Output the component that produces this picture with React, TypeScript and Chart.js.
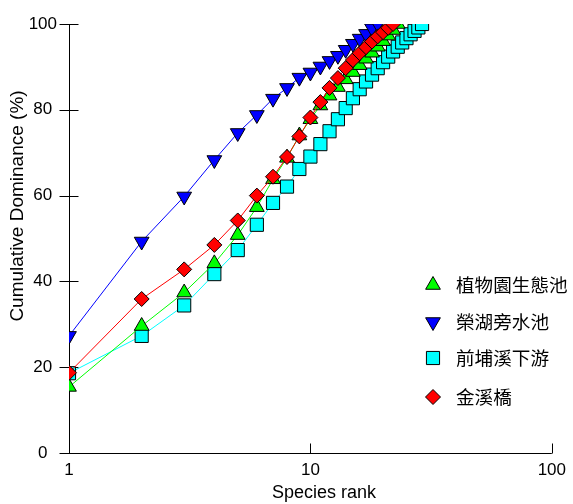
import React, { useEffect, useRef } from 'react';
import { Chart, registerables } from 'chart.js';
import { drawPoint } from 'chart.js/helpers';

Chart.register(...registerables);

// Series names (legend order)
const SERIES_NAMES = ['植物園生態池', '榮湖旁水池', '前埔溪下游', '金溪橋'];

// Cumulative dominance (%) by species rank (rank = index + 1)
const botanicalPond = [15.4, 29.6, 37.4, 44.2, 50.8, 57.3, 63.8, 68.8, 74.0, 77.8, 81.0, 83.3, 85.3, 87.1, 88.8, 90.4, 91.9, 93.3, 94.7, 96.0, 97.3, 98.6, 100];
const rongLakePond = [27.3, 49.3, 59.8, 68.3, 74.6, 78.8, 82.6, 85.1, 87.5, 88.7, 90.1, 91.4, 92.6, 94.0, 95.4, 96.6, 97.7, 99.0, 100];
const qianpuDownstream = [18.6, 27.3, 34.4, 41.7, 47.3, 53.2, 58.3, 62.1, 66.2, 69.1, 72.0, 75.0, 77.8, 80.4, 82.7, 84.8, 86.6, 88.2, 89.7, 91.1, 92.4, 93.6, 94.7, 95.7, 96.7, 97.6, 98.4, 99.2, 100];
const jinxiBridge = [18.7, 35.9, 42.8, 48.5, 54.2, 60.0, 64.4, 69.0, 73.8, 78.2, 81.8, 85.1, 87.4, 89.7, 91.6, 93.2, 94.6, 95.9, 97.1, 98.1, 99.1, 100];

const X_TICKS = [1, 10, 100];
const Y_TICKS = [0, 20, 40, 60, 80, 100];
const X_TITLE = 'Species rank';
const Y_TITLE = 'Cumulative Dominance (%)';

const toPoints = (arr: number[]) => arr.map((y, i) => ({ x: i + 1, y }));

const axesPlugin = {
  id: 'customAxes',
  beforeDatasetsDraw(chart: any) {
    const { ctx, chartArea, scales } = chart;
    const { left, right, top, bottom } = chartArea;
    const lx = Math.round(left) + 0.5;
    const by = Math.round(bottom) + 0.5;
    ctx.save();
    ctx.strokeStyle = '#000';
    ctx.lineWidth = 1;
    ctx.beginPath();
    ctx.moveTo(lx, top);
    ctx.lineTo(lx, by);
    ctx.moveTo(left, by);
    ctx.lineTo(right, by);
    Y_TICKS.forEach((v) => {
      const py = Math.round(scales.y.getPixelForValue(v)) + 0.5;
      ctx.moveTo(lx - 10, py);
      ctx.lineTo(lx + 9, py);
    });
    X_TICKS.forEach((v) => {
      const px = Math.round(scales.x.getPixelForValue(v)) + 0.5;
      ctx.moveTo(px, by);
      ctx.lineTo(px, by - 10);
    });
    ctx.stroke();
    ctx.restore();
  },
  afterDraw(chart: any) {
    const { ctx, chartArea } = chart;
    // Axis titles
    ctx.save();
    ctx.fillStyle = '#000';
    ctx.textAlign = 'center';
    ctx.textBaseline = 'middle';
    ctx.font = '18px Arial, "Liberation Sans", sans-serif';
    ctx.fillText(X_TITLE, chartArea.left + 255, 493);
    ctx.font = '19px Arial, "Liberation Sans", sans-serif';
    ctx.translate(18, chartArea.top + 182);
    ctx.rotate(-Math.PI / 2);
    ctx.fillText(Y_TITLE, 0, 0);
    ctx.restore();

    // Legend
    const rowsY = [285, 322, 358, 397];
    chart.data.datasets.forEach((ds: any, i: number) => {
      const y = rowsY[i];
      ctx.save();
      ctx.fillStyle = ds.backgroundColor;
      ctx.strokeStyle = '#000';
      ctx.lineWidth = 1;
      drawPoint(ctx, {
        pointStyle: ds.pointStyle,
        rotation: ds.pointRotation || 0,
        radius: ds.pointRadius,
        borderWidth: 1,
      } as any, 433, y);
      ctx.fillStyle = '#000';
      ctx.font = '18.6px "Noto Sans CJK TC", "Noto Sans CJK SC", sans-serif';
      ctx.textAlign = 'left';
      ctx.textBaseline = 'middle';
      ctx.fillText(ds.label, 456, y);
      ctx.restore();
    });
  },
};

export default function App() {
  const ref = useRef<HTMLCanvasElement>(null);

  useEffect(() => {
    if (!ref.current) return;
    const mk = (label: string, arr: number[], color: string, style: string, radius: number, order: number, rotation = 0) => ({
      label,
      data: toPoints(arr),
      borderColor: color,
      backgroundColor: color,
      borderWidth: 1,
      pointStyle: style,
      pointRadius: radius,
      pointRotation: rotation,
      pointBackgroundColor: color,
      pointBorderColor: '#000',
      pointBorderWidth: 1,
      order,
    });
    const chart = new Chart(ref.current, {
      type: 'line',
      data: {
        datasets: [
          mk(SERIES_NAMES[0], botanicalPond, '#00ff00', 'triangle', 8.5, 2),
          mk(SERIES_NAMES[1], rongLakePond, '#0000ff', 'triangle', 8.5, 1, 180),
          mk(SERIES_NAMES[2], qianpuDownstream, '#00ffff', 'rect', 9.3, 3),
          mk(SERIES_NAMES[3], jinxiBridge, '#ff0000', 'rectRot', 7.5, 0),
        ] as any,
      },
      options: {
        animation: false,
        responsive: false,
        devicePixelRatio: 1,
        layout: { padding: { top: 24, right: 19, left: 0, bottom: 0 } },
        plugins: { legend: { display: false }, tooltip: { enabled: false } },
        scales: {
          x: {
            type: 'logarithmic',
            min: 1,
            max: 100,
            afterBuildTicks: (s: any) => { s.ticks = X_TICKS.map((v) => ({ value: v })); },
            afterFit: (s: any) => { s.height = 51; },
            grid: { display: false, drawTicks: false },
            border: { display: false },
            ticks: {
              font: { family: 'Arial, "Liberation Sans", sans-serif', size: 17 },
              color: '#000',
              padding: 7,
              maxRotation: 0,
              autoSkip: false,
              callback: (v: any) => String(v),
            },
            title: { display: false },
          },
          y: {
            type: 'linear',
            min: 0,
            max: 100,
            afterBuildTicks: (s: any) => { s.ticks = Y_TICKS.map((v) => ({ value: v })); },
            afterFit: (s: any) => { s.width = 69; },
            grid: { display: false, drawTicks: false },
            border: { display: false },
            ticks: {
              font: { family: 'Arial, "Liberation Sans", sans-serif', size: 17 },
              color: '#000',
              padding: 12,
              crossAlign: 'center',
              callback: (v: any) => String(v),
            },
            title: { display: false },
          },
        },
      } as any,
      plugins: [axesPlugin],
    });
    return () => chart.destroy();
  }, []);

  return (
    <div style={{ position: 'absolute', left: 0, top: 0, width: 573, height: 504 }}>
      <canvas ref={ref} width={573} height={504} style={{ display: 'block' }} />
    </div>
  );
}
